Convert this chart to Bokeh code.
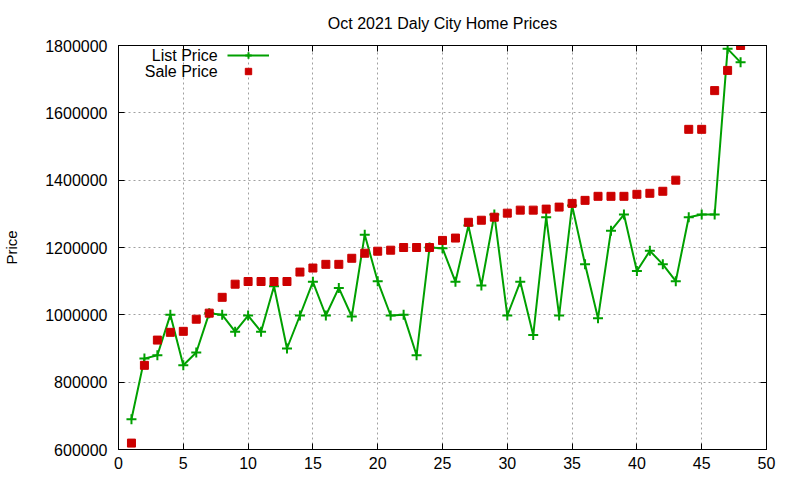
from bokeh.plotting import figure
from bokeh.models import (LinearAxis, FixedTicker, BasicTickFormatter, Legend,
                          LegendItem, Label, Range1d)
from bokeh.embed import file_html
from bokeh.resources import INLINE

title = "Oct 2021 Daly City Home Prices"
y_label = "Price"
series_names = ["List Price", "Sale Price"]

home_index = list(range(1, 49))
list_price = [690000, 870000, 880000, 1000000, 850000, 888000, 1005000, 1000000,
              950000, 998000, 950000, 1085000, 900000, 998000, 1098000, 998000,
              1080000, 995000, 1238000, 1100000, 998000, 1000000, 880000, 1200000,
              1198000, 1098000, 1265000, 1087000, 1298000, 998000, 1098000, 940000,
              1290000, 998000, 1325000, 1150000, 990000, 1250000, 1298000, 1130000,
              1190000, 1150000, 1100000, 1290000, 1298000, 1298000, 1790000, 1750000]
sale_price = [619000, 850000, 925000, 948000, 951000, 987000, 1005000, 1052000,
              1091000, 1099000, 1099000, 1099000, 1099000, 1127000, 1139000, 1150000,
              1150000, 1168000, 1183000, 1189000, 1192000, 1200000, 1200000, 1200000,
              1221000, 1228000, 1275000, 1281000, 1290000, 1302000, 1311000, 1311000,
              1314000, 1320000, 1331000, 1340000, 1352000, 1352000, 1352000, 1358000,
              1361000, 1367000, 1400000, 1551000, 1551000, 1666000, 1726000, 1800000]

x_ticks = [0, 5, 10, 15, 20, 25, 30, 35, 40, 45, 50]
y_ticks = [600000, 800000, 1000000, 1200000, 1400000, 1600000, 1800000]

FONT = "Liberation Sans"
GREEN = "#00a000"
RED = "#cc0000"

p = figure(width=784, height=476, output_backend="svg", toolbar_location=None,
           x_range=Range1d(0, 50), y_range=Range1d(600000, 1800000),
           min_border_left=112, min_border_right=18, min_border_top=45,
           min_border_bottom=27)

p.title.text = title
p.title.align = "center"
p.title.vertical_align = "top"
p.title.text_font = FONT
p.title.text_font_size = "16px"
p.title.text_font_style = "normal"
p.title.text_color = "black"
p.title.text_line_height = 1.0
p.title.standoff = 24

p.outline_line_color = "black"
p.outline_line_width = 1
p.background_fill_color = "white"
p.border_fill_color = "white"

def style_axis(ax, labels=True):
    ax.major_tick_in = 6
    ax.major_tick_out = 0
    ax.minor_tick_in = 0
    ax.minor_tick_out = 0
    ax.axis_line_color = "black"
    ax.major_tick_line_color = "black"
    if labels:
        ax.major_label_text_font = FONT
        ax.major_label_text_font_size = "16px"
        ax.major_label_text_color = "black"
    else:
        ax.major_label_text_font_size = "0px"
        ax.major_label_standoff = 0

xa = p.xaxis[0]
xa.ticker = FixedTicker(ticks=x_ticks)
style_axis(xa)
xa.major_label_standoff = 7

ya = p.yaxis[0]
ya.ticker = FixedTicker(ticks=y_ticks)
ya.formatter = BasicTickFormatter(use_scientific=False)
style_axis(ya)
ya.major_label_standoff = 11
ya.axis_label = y_label
ya.axis_label_text_font = FONT
ya.axis_label_text_font_size = "15px"
ya.axis_label_text_font_style = "normal"
ya.axis_label_text_color = "black"
ya.axis_label_standoff = 22

ra = LinearAxis(ticker=FixedTicker(ticks=y_ticks))
style_axis(ra, labels=False)
p.add_layout(ra, "right")
ta = LinearAxis(ticker=FixedTicker(ticks=x_ticks))
style_axis(ta, labels=False)
p.add_layout(ta, "above")

for g in (p.xgrid[0], p.ygrid[0]):
    g.grid_line_color = "#a0a0a0"
    g.grid_line_dash = "2 3"
    g.grid_line_width = 1
p.xgrid[0].ticker = FixedTicker(ticks=x_ticks)
p.ygrid[0].ticker = FixedTicker(ticks=y_ticks)

line_r = p.line(home_index, list_price, line_color=GREEN, line_width=2)
cross_r = p.scatter(home_index, list_price, marker="cross", size=10,
                    line_color=GREEN, line_width=2)
sq_r = p.scatter(home_index, sale_price, marker="square", size=8,
                 fill_color=RED, line_color=RED)

legend = Legend(items=[LegendItem(label=" ", renderers=[line_r, cross_r]),
                       LegendItem(label=" ", renderers=[sq_r])],
                location=(109, 370), glyph_width=42, glyph_height=16,
                label_height=16, label_width=1, padding=0, spacing=0, margin=0,
                label_standoff=0, label_text_font_size="1px",
                border_line_alpha=0, background_fill_alpha=0)
p.add_layout(legend, "center")

for name, yv in zip(series_names, [1770000, 1723000]):
    p.add_layout(Label(x=7.65, y=yv, text=name, text_align="right",
                       text_baseline="middle", text_font=FONT,
                       text_font_size="16px", text_color="black"))

open("out.html", "w").write(file_html(p, INLINE))
